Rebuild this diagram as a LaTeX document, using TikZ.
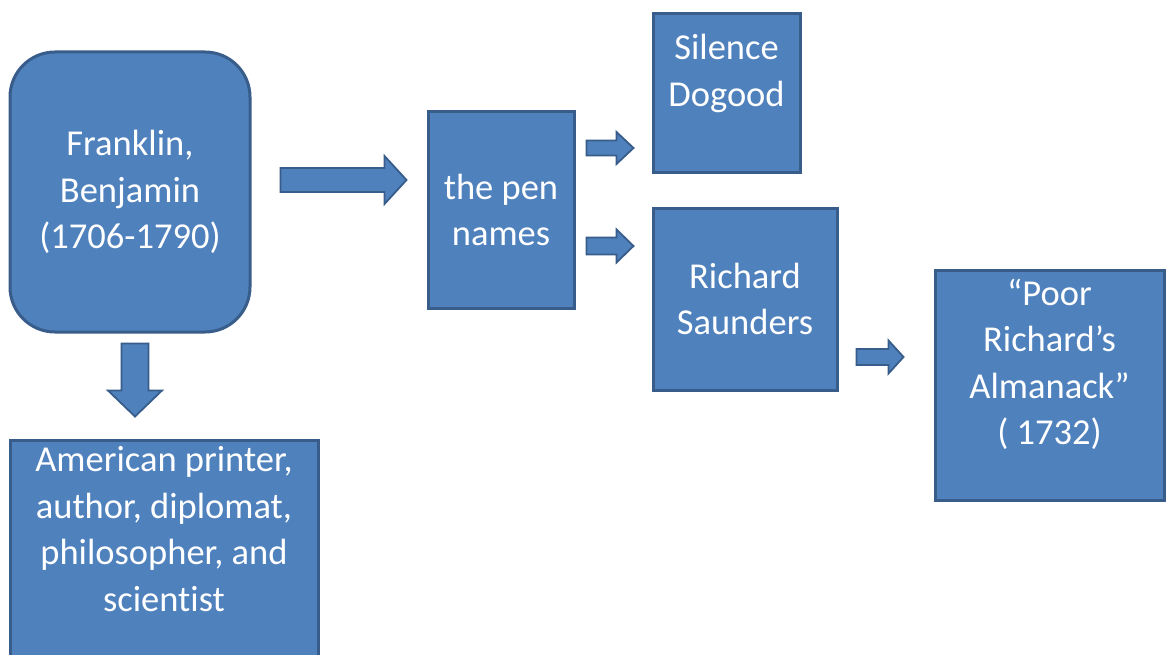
\documentclass[tikz,border=0pt]{standalone}
\usepackage{fontspec}
\setmainfont[Ligatures=NoCommon]{Carlito}
\usetikzlibrary{calc}
\definecolor{boxfill}{HTML}{4F81BD}
\definecolor{boxline}{HTML}{385D8A}
\tikzset{
  x=1pt, y=-1pt,
  box/.style={draw=boxline, fill=boxfill, line width=3pt, text=white,
    align=center, inner sep=0pt, font=\fontsize{36.5}{46.5}\selectfont},
  barrow/.style={draw=boxline, fill=boxfill, line width=1.8pt, line join=miter},
}
% block arrow pointing right: tail, tip, shaft half-width, head half-width, head length
\newcommand\rightblock[5]{%
  \draw[barrow] let \p1=(#1), \p2=(#2) in
    (\x1,\y1+#3) -- (\x2-#5,\y1+#3) -- (\x2-#5,\y1+#4) -- (\x2,\y2)
    -- (\x2-#5,\y1-#4) -- (\x2-#5,\y1-#3) -- (\x1,\y1-#3) -- cycle;}
% block arrow pointing down: tail, tip, shaft half-width, head half-width, head length
\newcommand\downblock[5]{%
  \draw[barrow] let \p1=(#1), \p2=(#2) in
    (\x1-#3,\y1) -- (\x1-#3,\y2+#5) -- (\x1-#4,\y2+#5) -- (\x2,\y2)
    -- (\x1+#4,\y2+#5) -- (\x1+#3,\y2+#5) -- (\x1+#3,\y1) -- cycle;}
\begin{document}
\begin{tikzpicture}
  \path[fill=white, use as bounding box] (0,0) rectangle (1166,655);

  % boxes
  \node[box, rounded corners=45pt, minimum width=240pt, minimum height=280pt]
    (franklin) at (130,192) {Franklin,\\Benjamin\\(1706-1790)};
  \node[box, minimum width=308pt, minimum height=224pt]
    (american) at (164,552) {American printer,\\author, diplomat,\\philosopher, and\\scientist\\ \mbox{}};
  \node[box, minimum width=146pt, minimum height=196pt]
    (pen) at (501,210) {the pen\\names};
  \node[box, minimum width=147pt, minimum height=159pt]
    (silence) at (726.5,93.5) {Silence\\Dogood\\ \mbox{}};
  \node[box, minimum width=184pt, minimum height=182pt]
    (richard) at (745,299) {Richard\\Saunders};
  \node[box, minimum width=229pt, minimum height=230pt]
    (poor) at (1049.5,385) {“Poor\\Richard’s\\Almanack”\\( 1732)\\ \mbox{}};

  % arrow end points
  \coordinate (fp-tail) at ($(franklin.east)+(29,-12)$);
  \coordinate (fp-tip)  at ($(pen.west)+(-20,-30)$);
  \coordinate (fa-tail) at ($(franklin.south)+(5,10)$);
  \coordinate (fa-tip)  at ($(american.north)+(-29,-22)$);
  \coordinate (ps-tail) at ($(pen.east)+(11,-62)$);
  \coordinate (ps-tip)  at ($(silence.west)+(-18,54.5)$);
  \coordinate (pr-tail) at ($(pen.east)+(11,36)$);
  \coordinate (pr-tip)  at ($(richard.west)+(-18,-53)$);
  \coordinate (rp-tail) at ($(richard.east)+(18,58)$);
  \coordinate (rp-tip)  at ($(poor.west)+(-30,-28)$);

  % block arrows
  \rightblock{fp-tail}{fp-tip}{12pt}{24pt}{22pt}
  \downblock{fa-tail}{fa-tip}{13.5pt}{27pt}{26pt}
  \rightblock{ps-tail}{ps-tip}{7.5pt}{16pt}{17pt}
  \rightblock{pr-tail}{pr-tip}{8.5pt}{16.5pt}{17pt}
  \rightblock{rp-tail}{rp-tip}{8pt}{16.5pt}{15pt}
\end{tikzpicture}
\end{document}
